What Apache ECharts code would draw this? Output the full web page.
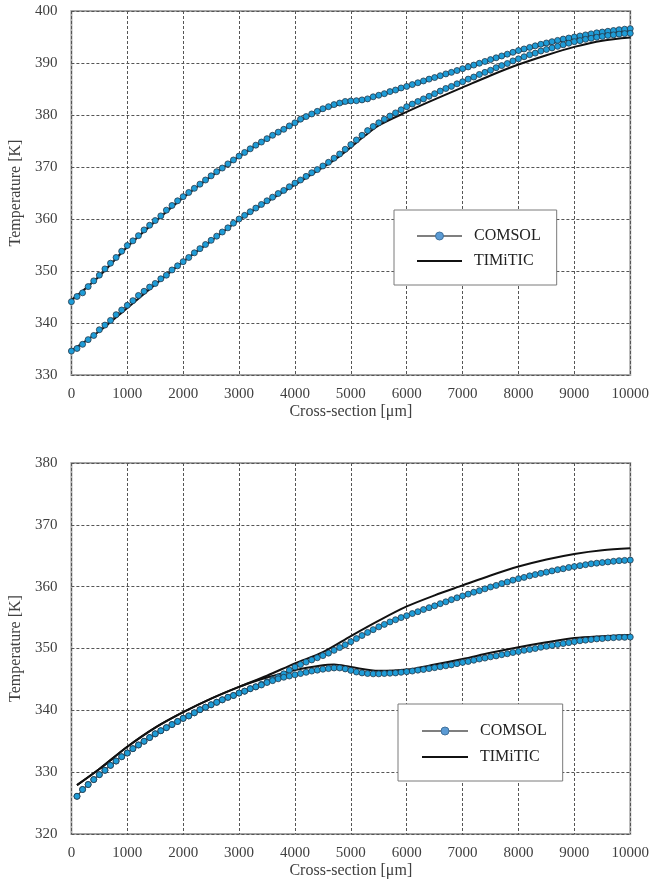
<!DOCTYPE html>
<html>
<head>
<meta charset="utf-8">
<script src="https://cdn.jsdelivr.net/npm/echarts@6/dist/echarts.min.js"></script>
<style>
html,body{margin:0;padding:0;background:#fff;}
#c{width:652px;height:887px;}
</style>
</head>
<body>
<div id="c"></div>
<script>
// ---------- DATA ----------
// Top chart: COMSOL markers every 100 µm from 0 to 10000
var topStep = 100, topStart = 0;
var topComsolUpper = [
344.1,345.1,345.8,347.0,348.1,349.2,350.4,351.5,352.6,353.8,
354.9,355.8,356.8,357.9,358.8,359.7,360.6,361.7,362.6,363.5,
364.3,365.1,365.9,366.7,367.5,368.3,369.1,369.8,370.6,371.35,
372.1,372.8,373.5,374.2,374.8,375.45,376.1,376.7,377.25,377.9,
378.5,379.2,379.7,380.2,380.7,381.2,381.6,382.0,382.3,382.6,
382.7,382.75,382.9,383.1,383.5,383.8,384.1,384.5,384.8,385.2,
385.5,385.85,386.2,386.55,386.9,387.2,387.55,387.9,388.2,388.55,
388.9,389.25,389.6,389.95,390.3,390.65,391.0,391.35,391.7,392.05,
392.4,392.7,393.0,393.3,393.6,393.85,394.1,394.35,394.6,394.8,
395.0,395.2,395.4,395.6,395.8,395.95,396.1,396.25,396.4,396.5,
396.6];
var topComsolLower = [
334.6,335.1,335.9,336.8,337.6,338.7,339.6,340.5,341.6,342.5,
343.4,344.3,345.3,346.1,346.9,347.6,348.5,349.2,350.2,351.0,
351.8,352.6,353.5,354.3,355.1,355.9,356.7,357.5,358.3,359.2,
360.0,360.7,361.4,362.1,362.8,363.5,364.2,364.9,365.5,366.2,
366.9,367.5,368.2,368.9,369.5,370.2,370.9,371.7,372.5,373.4,
374.3,375.2,376.1,377.0,377.8,378.5,379.2,379.8,380.4,381.0,
381.6,382.1,382.6,383.1,383.6,384.1,384.6,385.1,385.5,386.0,
386.4,386.9,387.3,387.8,388.2,388.6,389.1,389.5,389.9,390.4,
390.8,391.2,391.6,391.9,392.3,392.6,392.9,393.2,393.5,393.8,
394.1,394.3,394.55,394.75,394.95,395.1,395.3,395.4,395.55,395.65,
395.7];
var topTimUpperX = [0,500,1000,1500,2000,2500,3000,3500,4000,4500,4750,5000,5250,5500,6000,6500,7000,7500,8000,8500,9000,9500,10000];
var topTimUpperY = [344.4,349.0,354.6,359.5,364.1,368.2,372.0,375.4,378.4,381.0,381.9,382.5,383.0,383.7,385.4,387.1,388.8,390.5,392.2,393.6,394.7,395.6,396.2];
var topTimLowerX = [0,500,1000,1500,2000,2500,3000,3500,4000,4500,4750,5000,5250,5500,6000,6500,7000,7500,8000,8500,9000,9500,10000];
var topTimLowerY = [334.7,338.4,342.9,347.4,351.8,355.8,359.8,363.3,366.6,369.9,371.7,373.8,376.0,378.0,380.6,383.0,385.3,387.6,389.7,391.5,393.1,394.3,394.9];

// Bottom chart: COMSOL markers every 100 µm from 100 to 10000
var botStep = 100, botStart = 100;
var botComsolUpper = [
326.1,327.2,328.0,328.8,329.6,330.3,331.1,331.8,332.5,333.1,
333.8,334.4,335.0,335.6,336.2,336.7,337.2,337.7,338.2,338.7,
339.1,339.6,340.1,340.5,340.9,341.3,341.7,342.1,342.4,342.8,
343.1,343.5,343.8,344.2,344.6,345.0,345.4,345.9,346.5,347.0,
347.4,347.8,348.15,348.5,348.85,349.25,349.7,350.15,350.6,351.1,
351.6,352.1,352.6,353.05,353.5,353.9,354.3,354.65,355.0,355.3,
355.65,355.95,356.3,356.6,356.9,357.25,357.55,357.9,358.2,358.5,
358.8,359.1,359.35,359.65,359.95,360.2,360.5,360.75,361.05,361.3,
361.5,361.75,361.95,362.15,362.35,362.55,362.75,362.9,363.1,363.25,
363.4,363.55,363.7,363.8,363.9,364.0,364.1,364.2,364.25,364.3];
var botComsolLower = [
326.1,327.2,328.0,328.8,329.6,330.3,331.1,331.8,332.5,333.1,
333.8,334.4,335.0,335.6,336.2,336.7,337.2,337.7,338.2,338.7,
339.1,339.6,340.1,340.5,340.9,341.3,341.7,342.1,342.4,342.8,
343.1,343.5,343.8,344.1,344.5,344.8,345.1,345.35,345.55,345.75,
345.95,346.15,346.35,346.5,346.65,346.75,346.85,346.85,346.7,346.45,
346.2,346.05,345.95,345.9,345.9,345.95,346.0,346.05,346.15,346.25,
346.35,346.5,346.6,346.75,346.9,347.05,347.2,347.35,347.55,347.75,
347.9,348.1,348.3,348.45,348.65,348.8,349.0,349.15,349.35,349.5,
349.7,349.85,350.0,350.2,350.35,350.5,350.65,350.8,350.95,351.1,
351.25,351.35,351.45,351.55,351.6,351.7,351.75,351.8,351.8,351.85];
var botTimUpperX = [100,500,1000,1500,2000,2500,3000,3500,4000,4500,5000,5500,6000,6500,7000,7500,8000,8500,9000,9500,10000];
var botTimUpperY = [327.9,330.5,334.1,337.2,339.7,341.9,343.8,345.6,347.6,349.4,352.0,354.5,356.8,358.6,360.2,361.8,363.25,364.4,365.3,365.9,366.2];
var botTimLowerX = [100,500,1000,1500,2000,2500,3000,3500,4000,4500,4700,5000,5500,6000,6500,7000,7500,8000,8500,9000,9500,10000];
var botTimLowerY = [327.9,330.5,334.1,337.2,339.7,341.9,343.8,345.3,346.5,347.3,347.4,347.0,346.4,346.6,347.4,348.3,349.3,350.2,351.0,351.7,352.0,352.2];

var legendNames = ['COMSOL', 'TIMiTIC'];
var xAxisName = 'Cross-section [\u03bcm]';
var yAxisName = 'Temperature [K]';

// ---------- BUILD ----------
function seqPairs(start, step, vals){ return vals.map(function(v,i){ return [start + i*step, v]; }); }
function zipPairs(xs, ys){ return xs.map(function(x,i){ return [x, ys[i]]; }); }

var FONT = 'Liberation Serif';
var TXT = '#404040';

function comsolSeries(data, gi){
  return {
    name: 'COMSOL', type: 'line', xAxisIndex: gi, yAxisIndex: gi, data: data,
    symbol: 'circle', symbolSize: 6, showSymbol: true, z: 5,
    lineStyle: { color: '#3a3a3a', width: 1 },
    itemStyle: { color: '#1E9CD7', borderColor: '#25384a', borderWidth: 0.8 },
    emphasis: { disabled: true }
  };
}
function timSeries(data, gi){
  return {
    name: 'TIMiTIC', type: 'line', xAxisIndex: gi, yAxisIndex: gi, data: data,
    symbol: 'none', smooth: 0.3, z: 3,
    lineStyle: { color: '#111', width: 2 },
    itemStyle: { color: '#111' },
    emphasis: { disabled: true }
  };
}
function xAx(gi){
  return {
    type: 'value', gridIndex: gi, min: 0, max: 10000, interval: 1000,
    name: xAxisName, nameLocation: 'middle', nameGap: 29,
    nameTextStyle: { fontFamily: FONT, fontSize: 16, color: TXT },
    axisLine: { show: false }, axisTick: { show: false },
    axisLabel: { fontFamily: FONT, fontSize: 15, color: TXT, margin: 12, formatter: function(v){ return String(v); } },
    splitLine: { show: true, lineStyle: { color: '#555', width: 1, type: [3, 2] } }
  };
}
function yAx(gi, mn, mx){
  return {
    type: 'value', gridIndex: gi, min: mn, max: mx, interval: 10,
    name: yAxisName, nameLocation: 'middle', nameGap: 46,
    nameTextStyle: { fontFamily: FONT, fontSize: 16, color: TXT },
    axisLine: { show: false }, axisTick: { show: false },
    axisLabel: { fontFamily: FONT, fontSize: 15, color: TXT, margin: 14, formatter: function(v){ return String(v); } },
    splitLine: { show: true, lineStyle: { color: '#555', width: 1, type: [3, 2] } }
  };
}
function legendData(){
  return [
    { name: legendNames[0], itemStyle: { color: '#5B9BD5', borderColor: '#41719C', borderWidth: 1 }, lineStyle: { color: '#555', width: 1.5 } },
    { name: legendNames[1], itemStyle: { opacity: 0 }, lineStyle: { color: '#111', width: 2 } }
  ];
}

var option = {
  animation: false,
  backgroundColor: '#fff',
  grid: [
    { left: 69.5, top: 11, width: 562.5, height: 364, show: true, borderColor: '#a6a6a6', borderWidth: 2, containLabel: false },
    { left: 70.7, top: 463, width: 562.3, height: 371, show: true, borderColor: '#a6a6a6', borderWidth: 2, containLabel: false }
  ],
  xAxis: [xAx(0), xAx(1)],
  yAxis: [yAx(0, 330, 400), yAx(1, 320, 380)],
  legend: [
    { orient: 'vertical', left: 394, top: 210, itemWidth: 45, itemHeight: 10, itemGap: 9,
      padding: [18, 16, 16, 22], backgroundColor: '#fff', borderColor: '#7a7a7a', borderWidth: 1,
      textStyle: { fontFamily: FONT, fontSize: 16, lineHeight: 16, color: '#222', padding: [0, 0, 0, 7] },
      data: legendData(), selectedMode: false },
    { orient: 'vertical', left: 398, top: 704, itemWidth: 46, itemHeight: 10, itemGap: 10,
      padding: [19, 16, 16, 23], backgroundColor: '#fff', borderColor: '#7a7a7a', borderWidth: 1,
      textStyle: { fontFamily: FONT, fontSize: 16, lineHeight: 16, color: '#222', padding: [0, 0, 0, 7] },
      data: legendData(), selectedMode: false }
  ],
  series: [
    timSeries(zipPairs(topTimUpperX, topTimUpperY), 0),
    timSeries(zipPairs(topTimLowerX, topTimLowerY), 0),
    comsolSeries(seqPairs(topStart, topStep, topComsolUpper), 0),
    comsolSeries(seqPairs(topStart, topStep, topComsolLower), 0),
    timSeries(zipPairs(botTimUpperX, botTimUpperY), 1),
    timSeries(zipPairs(botTimLowerX, botTimLowerY), 1),
    comsolSeries(seqPairs(botStart, botStep, botComsolUpper), 1),
    comsolSeries(seqPairs(botStart, botStep, botComsolLower), 1)
  ]
};
var chart = echarts.init(document.getElementById('c'), null, { renderer: 'canvas' });
chart.setOption(option);
</script>
</body>
</html>
